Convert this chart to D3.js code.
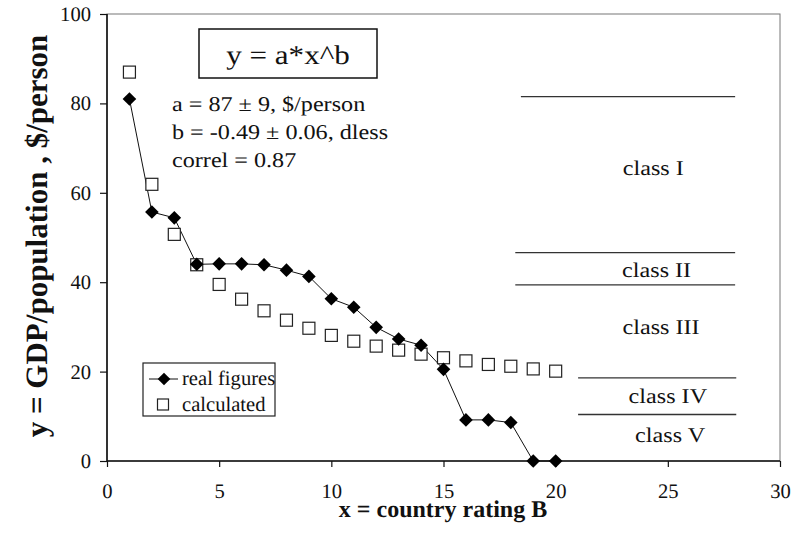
<!DOCTYPE html>
<html>
<head>
<meta charset="utf-8">
<script src="https://cdn.jsdelivr.net/npm/d3@7"></script>
<style>
  html, body { margin: 0; padding: 0; background: #fff; }
  svg { text-rendering: geometricPrecision; }
  svg text { font-family: "Liberation Serif", "Times New Roman", serif; }
</style>
</head>
<body>
<svg id="chart" width="796" height="536"></svg>
<script>
// ---- data ----
const ratings = [1,2,3,4,5,6,7,8,9,10,11,12,13,14,15,16,17,18,19,20];
const realFigures = [81,55.7,54.4,44,44.1,44.1,43.9,42.7,41.3,36.3,34.4,29.9,27.3,25.9,20.5,9.2,9.2,8.6,0,0];
const calculated = [87,61.9,50.7,43.9,39.5,36.2,33.6,31.5,29.7,28.1,26.8,25.7,24.8,23.9,23.1,22.4,21.6,21.2,20.6,20.1];
const xTicks = [0,5,10,15,20,25,30];
const yTicks = [0,20,40,60,80,100];
const classBoundaries = [
  {y: 81.5, x0: 18.45, x1: 28.0},
  {y: 46.6, x0: 18.2, x1: 28.0},
  {y: 39.4, x0: 18.2, x1: 28.0},
  {y: 18.6, x0: 21.0, x1: 28.05},
  {y: 10.4, x0: 21.0, x1: 28.05}
];
const classLabels = [
  {text: "class I", x: 24.35, y: 64.0},
  {text: "class II", x: 24.5, y: 41.2},
  {text: "class III", x: 24.7, y: 28.4},
  {text: "class IV", x: 25.0, y: 13.0},
  {text: "class V", x: 25.1, y: 4.3}
];
const equation = "y = a*x^b";
const fitLines = ["a = 87 \u00b1 9, $/person", "b = -0.49 \u00b1 0.06, dless", "correl = 0.87"];
const seriesNames = ["real figures", "calculated"];
const xTitle = "x = country rating B";
const yTitle = "y = GDP/population , $/person";

// ---- layout ----
const FONT = "'Liberation Serif', 'Times New Roman', serif";
const svg = d3.select("#chart");
const L = 107, R = 780, T = 14, B = 461;
const x = d3.scaleLinear().domain([0, 30]).range([L, R]);
const y = d3.scaleLinear().domain([0, 100]).range([B, T]);
const STRETCH = 1.15;

// plot frame (top/right)
svg.append("rect").attr("x", L).attr("y", T).attr("width", R - L).attr("height", B - T)
  .attr("fill", "none").attr("stroke", "#777").attr("stroke-width", 1);

// axes
const yAxis = svg.append("g").attr("transform", `translate(${L},0)`)
  .call(d3.axisLeft(y).tickValues(yTicks).tickSize(7).tickPadding(9).tickFormat(d3.format("d")));
const xAxis = svg.append("g").attr("transform", `translate(0,${B})`)
  .call(d3.axisBottom(x).tickValues(xTicks).tickSize(6).tickPadding(16).tickFormat(d3.format("d")));
[xAxis, yAxis].forEach(g => {
  g.attr("font-family", FONT).attr("font-size", 20.6);
  g.select(".domain").attr("stroke", "#111").attr("stroke-width", 1.6);
  g.selectAll(".tick line").attr("stroke", "#111").attr("stroke-width", 1.2);
  g.selectAll(".tick text").attr("fill", "#111");
});
yAxis.select(".domain").attr("d", `M0,${T}V${B}`);
xAxis.select(".domain").attr("d", `M${L},0H${R}`);

// axis titles
svg.append("text").attr("x", 443).attr("y", 517)
  .attr("text-anchor", "middle").attr("font-size", 24).attr("font-weight", "bold")
  .attr("fill", "#111").text(xTitle);
svg.append("text").attr("transform", "translate(47,236) rotate(-90)")
  .attr("text-anchor", "middle").attr("font-size", 31).attr("font-weight", "bold")
  .attr("fill", "#111").text(yTitle);

// class boundaries
svg.append("g").selectAll("line").data(classBoundaries).join("line")
  .attr("x1", d => x(d.x0)).attr("x2", d => x(d.x1))
  .attr("y1", d => y(d.y)).attr("y2", d => y(d.y))
  .attr("stroke", "#333").attr("stroke-width", 1.3);
svg.append("g").selectAll("text").data(classLabels).join("text")
  .attr("transform", d => `translate(${x(d.x)},${y(d.y)}) scale(${STRETCH},1)`)
  .attr("text-anchor", "middle").attr("font-size", 21)
  .attr("fill", "#111").text(d => d.text);

// equation box
svg.append("rect").attr("x", 199).attr("y", 29).attr("width", 178).attr("height", 49)
  .attr("fill", "#fff").attr("stroke", "#111").attr("stroke-width", 1.5);
svg.append("text").attr("transform", `translate(288,64) scale(${STRETCH},1)`)
  .attr("text-anchor", "middle").attr("font-size", 27)
  .attr("fill", "#111").text(equation);
svg.append("g").selectAll("text").data(fitLines).join("text")
  .attr("transform", (d, i) => `translate(172,${111 + i * 28}) scale(${STRETCH},1)`)
  .attr("font-size", 21).attr("fill", "#111").text(d => d);

// series
const pts = ratings.map((r, i) => ({x: r, real: realFigures[i], calc: calculated[i]}));
svg.append("path").datum(pts)
  .attr("d", d3.line().x(d => x(d.x)).y(d => y(d.real)))
  .attr("fill", "none").attr("stroke", "#111").attr("stroke-width", 1);

const diamond = (cx, cy, r) => `M${cx},${cy - r}L${cx + r},${cy}L${cx},${cy + r}L${cx - r},${cy}Z`;
const SQ = 12;
svg.append("g").selectAll("rect").data(pts).join("rect")
  .attr("x", d => x(d.x) - SQ / 2).attr("y", d => y(d.calc) - SQ / 2)
  .attr("width", SQ).attr("height", SQ)
  .attr("fill", "#fff").attr("stroke", "#222").attr("stroke-width", 1.2);
svg.append("g").selectAll("path").data(pts).join("path")
  .attr("d", d => diamond(x(d.x), y(d.real), 6.8))
  .attr("fill", "#000");

// legend
const lg = svg.append("g");
lg.append("rect").attr("x", 143).attr("y", 363).attr("width", 132).attr("height", 53)
  .attr("fill", "#fff").attr("stroke", "#222").attr("stroke-width", 1.2);
lg.append("line").attr("x1", 149).attr("x2", 178).attr("y1", 379).attr("y2", 379)
  .attr("stroke", "#111").attr("stroke-width", 1);
lg.append("path").attr("d", diamond(164, 379, 6.3)).attr("fill", "#000");
lg.append("rect").attr("x", 157.5).attr("y", 399).attr("width", 11).attr("height", 11)
  .attr("fill", "#fff").attr("stroke", "#222").attr("stroke-width", 1.2);
lg.selectAll("text.lt").data(seriesNames).join("text")
  .attr("x", 182).attr("y", (d, i) => 385 + i * 25.5)
  .attr("font-size", 20.6).attr("fill", "#111").text(d => d);
</script>
</body>
</html>
